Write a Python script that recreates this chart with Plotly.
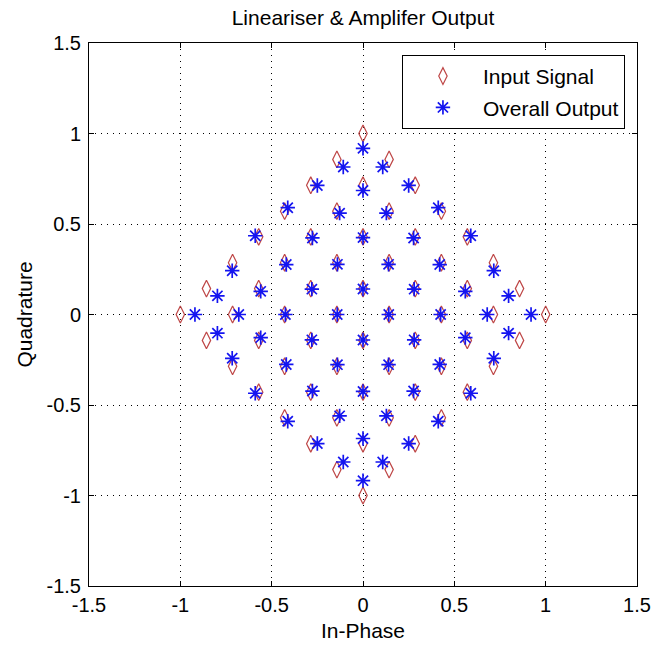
import plotly.graph_objects as go

# Input constellation (In-Phase / Quadrature)
input_i = [0,
           -0.143, 0.143,
           -0.286, 0, 0.286,
           -0.429, -0.143, 0.143, 0.429,
           -0.571, -0.286, 0, 0.286, 0.571,
           -0.714, -0.429, -0.143, 0.143, 0.429, 0.714,
           -0.857, -0.571, -0.286, 0, 0.286, 0.571, 0.857,
           -1.0, -0.714, -0.429, -0.143, 0.143, 0.429, 0.714, 1.0,
           -0.857, -0.571, -0.286, 0, 0.286, 0.571, 0.857,
           -0.714, -0.429, -0.143, 0.143, 0.429, 0.714,
           -0.571, -0.286, 0, 0.286, 0.571,
           -0.429, -0.143, 0.143, 0.429,
           -0.286, 0, 0.286,
           -0.143, 0.143,
           0]
input_q = [1.0,
           0.857, 0.857,
           0.714, 0.714, 0.714,
           0.571, 0.571, 0.571, 0.571,
           0.429, 0.429, 0.429, 0.429, 0.429,
           0.286, 0.286, 0.286, 0.286, 0.286, 0.286,
           0.143, 0.143, 0.143, 0.143, 0.143, 0.143, 0.143,
           0, 0, 0, 0, 0, 0, 0, 0,
           -0.143, -0.143, -0.143, -0.143, -0.143, -0.143, -0.143,
           -0.286, -0.286, -0.286, -0.286, -0.286, -0.286,
           -0.429, -0.429, -0.429, -0.429, -0.429,
           -0.571, -0.571, -0.571, -0.571,
           -0.714, -0.714, -0.714,
           -0.857, -0.857,
           -1.0]

# Overall output constellation
output_i = [0,
            -0.108, 0.108,
            -0.25, 0, 0.25,
            -0.412, -0.128, 0.128, 0.412,
            -0.59, -0.277, 0, 0.277, 0.59,
            -0.716, -0.42, -0.14, 0.14, 0.42, 0.716,
            -0.797, -0.56, -0.28, 0, 0.28, 0.56, 0.797,
            -0.92, -0.68, -0.425, -0.141, 0.141, 0.425, 0.68, 0.92,
            -0.797, -0.56, -0.28, 0, 0.28, 0.56, 0.797,
            -0.716, -0.42, -0.14, 0.14, 0.42, 0.716,
            -0.59, -0.277, 0, 0.277, 0.59,
            -0.412, -0.128, 0.128, 0.412,
            -0.25, 0, 0.25,
            -0.108, 0.108,
            0]
output_q = [0.918,
            0.815, 0.815,
            0.713, 0.685, 0.713,
            0.59, 0.56, 0.56, 0.59,
            0.435, 0.423, 0.425, 0.423, 0.435,
            0.242, 0.276, 0.277, 0.277, 0.276, 0.242,
            0.103, 0.128, 0.14, 0.141, 0.14, 0.128, 0.103,
            0, 0, 0, 0, 0, 0, 0, 0,
            -0.103, -0.128, -0.14, -0.141, -0.14, -0.128, -0.103,
            -0.242, -0.276, -0.277, -0.277, -0.276, -0.242,
            -0.435, -0.423, -0.425, -0.423, -0.435,
            -0.59, -0.56, -0.56, -0.59,
            -0.713, -0.685, -0.713,
            -0.815, -0.815,
            -0.918]

tick_vals = [-1.5, -1, -0.5, 0, 0.5, 1, 1.5]
tick_text = ["-1.5", "-1", "-0.5", "0", "0.5", "1", "1.5"]

FONT = "Liberation Sans, Arial, sans-serif"
RED = "rgb(190,70,70)"
BLUE = "rgb(20,20,240)"

fig = go.Figure()
fig.add_trace(go.Scatter(
    x=input_i, y=input_q, mode="markers", name="Input Signal", legendgroup="a",
    marker=dict(symbol="diamond-tall-open", size=12, color=RED,
                line=dict(width=1.2, color=RED))))
fig.add_trace(go.Scatter(
    x=output_i, y=output_q, mode="markers", name="Overall Output", legendgroup="b",
    marker=dict(symbol="asterisk-open", size=12, color=BLUE,
                line=dict(width=1.7, color=BLUE))))

axis_common = dict(
    range=[-1.5, 1.5], tickmode="array", tickvals=tick_vals, ticktext=tick_text,
    showline=True, mirror="ticks", linecolor="black", linewidth=1,
    ticks="inside", ticklen=5, tickcolor="black",
    showgrid=True, gridcolor="black", gridwidth=1, griddash="1px,5px",
    zeroline=False, tickfont=dict(family=FONT, size=20, color="black"),
)

fig.update_layout(
    width=665, height=651,
    margin=dict(l=89, r=28, t=43, b=63),
    paper_bgcolor="white", plot_bgcolor="white",
    title=dict(text="Lineariser & Amplifer Output", xref="paper", x=0.5,
               xanchor="center", y=1 - 18 / 651, yanchor="middle",
               font=dict(family=FONT, size=21, color="black")),
    xaxis=dict(axis_common, ticklabelstandoff=1,
               title=dict(text="In-Phase", standoff=8,
                          font=dict(family=FONT, size=21, color="black"))),
    yaxis=dict(axis_common, ticklabelstandoff=3,
               title=dict(text="Quadrature", standoff=8,
                          font=dict(family=FONT, size=21, color="black"))),
    legend=dict(x=0.978, y=0.978, xanchor="right", yanchor="top",
                bgcolor="white", bordercolor="black", borderwidth=1,
                font=dict(family=FONT, size=21, color="black"),
                traceorder="grouped", tracegroupgap=1, itemwidth=70),
    showlegend=True,
)

fig.write_html("out.html")
